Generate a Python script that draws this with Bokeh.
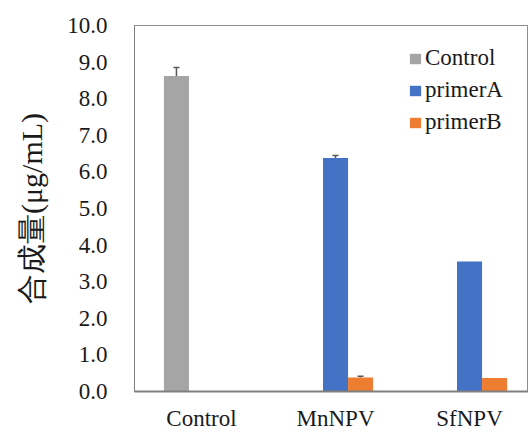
from bokeh.plotting import figure
from bokeh.models import (ColumnDataSource, Whisker, TeeHead, Range1d, FixedTicker,
                          NumeralTickFormatter, Legend, LegendItem)
from bokeh.embed import file_html
from bokeh.resources import INLINE

# ---- data ----
categories = ["Control", "MnNPV", "SfNPV"]
series_names = ["Control", "primerA", "primerB"]
control_vals = [8.62, None, None]
primerA_vals = [None, 6.38, 3.55]
primerB_vals = [None, 0.38, 0.37]
control_err = [0.23, None, None]
primerA_err = [None, 0.07, 0.0]
primerB_err = [None, 0.04, 0.0]
y_ticks = [0, 1, 2, 3, 4, 5, 6, 7, 8, 9, 10]
colors = ["#A5A5A5", "#4472C4", "#ED7D31"]

all_vals = [control_vals, primerA_vals, primerB_vals]
all_errs = [control_err, primerA_err, primerB_err]

BAR_W = 0.187
SERIF = "Liberation Serif"

p = figure(width=528, height=433, output_backend="svg", toolbar_location=None,
           x_range=Range1d(0, 2.94), y_range=Range1d(0, 10),
           min_border_left=134, min_border_right=0, min_border_top=25,
           min_border_bottom=0)
p.background_fill_color = "white"
p.border_fill_color = "white"
p.outline_line_color = "#8c8c8c"
p.outline_line_width = 1
p.xgrid.visible = False
p.ygrid.visible = False

items = []
for i, (name, vals, errs) in enumerate(zip(series_names, all_vals, all_errs)):
    xs, tops = [], []
    exs, elo, eup = [], [], []
    for ci, (v, e) in enumerate(zip(vals, errs)):
        if v is None:
            continue
        x = ci + 0.5 + (i - 1) * BAR_W
        xs.append(x)
        tops.append(v)
        if e:
            exs.append(x)
            elo.append(v)
            eup.append(v + e)
    src = ColumnDataSource(dict(x=xs, top=tops))
    r = p.vbar(x="x", top="top", width=BAR_W, source=src,
               fill_color=colors[i], line_color=None)
    items.append(LegendItem(label=name, renderers=[r]))
    if exs:
        esrc = ColumnDataSource(dict(x=exs, lower=elo, upper=eup))
        w = Whisker(base="x", lower="lower", upper="upper", source=esrc,
                    line_color="#595959", line_width=1.5,
                    lower_head=None,
                    upper_head=TeeHead(size=6, line_color="#595959", line_width=1.5))
        p.add_layout(w)

legend = Legend(items=items, location=(274, 256))
legend.background_fill_alpha = 0
legend.border_line_color = None
legend.padding = 0
legend.margin = 0
legend.spacing = 6
legend.glyph_width = 14
legend.glyph_height = 13
legend.label_standoff = 3
legend.label_text_font = SERIF
legend.label_text_font_size = "23px"
legend.label_text_color = "#1a1a1a"
p.add_layout(legend)

# x axis
p.xaxis.ticker = FixedTicker(ticks=[i + 0.5 for i in range(len(categories))])
p.xaxis.major_label_overrides = {i + 0.5: c for i, c in enumerate(categories)}
p.xaxis.major_tick_line_color = None
p.xaxis.minor_tick_line_color = None
p.xaxis.major_tick_out = 0
p.xaxis.axis_line_color = "#7f7f7f"
p.xaxis.axis_line_width = 2
p.xaxis.major_label_text_font = SERIF
p.xaxis.major_label_text_font_size = "23px"
p.xaxis.major_label_text_color = "#1a1a1a"
p.xaxis.major_label_standoff = 14

# y axis
p.yaxis.ticker = FixedTicker(ticks=y_ticks)
p.yaxis.formatter = NumeralTickFormatter(format="0.0")
p.yaxis.major_tick_line_color = None
p.yaxis.minor_tick_line_color = None
p.yaxis.major_tick_out = 0
p.yaxis.axis_line_color = "#7f7f7f"
p.yaxis.axis_line_width = 1
p.yaxis.major_label_text_font = SERIF
p.yaxis.major_label_text_font_size = "23px"
p.yaxis.major_label_text_color = "#1a1a1a"
p.yaxis.major_label_standoff = 27
p.yaxis.axis_label = "合成量(μg/mL)"
p.yaxis.axis_label_text_font = SERIF
p.yaxis.axis_label_text_font_size = "30px"
p.yaxis.axis_label_text_font_style = "normal"
p.yaxis.axis_label_text_color = "#1a1a1a"
p.yaxis.axis_label_standoff = 16

open("out.html", "w").write(file_html(p, INLINE))
